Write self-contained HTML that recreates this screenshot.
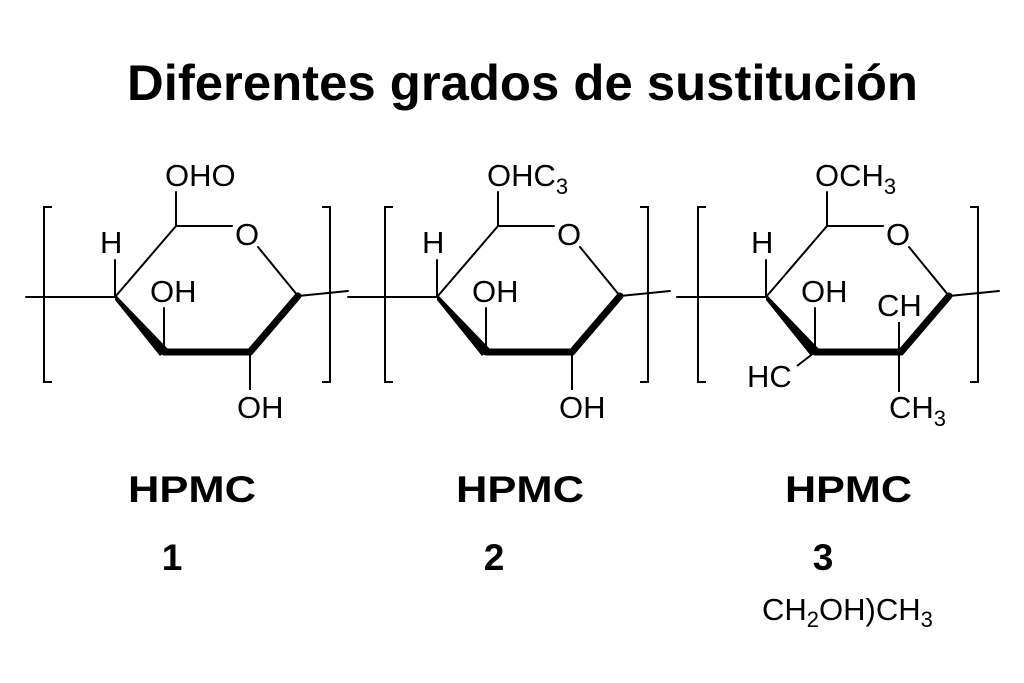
<!DOCTYPE html>
<html><head><meta charset="utf-8"><style>
html,body{margin:0;padding:0;background:#fff;}
svg{display:block;}
text{font-family:"Liberation Sans",sans-serif;fill:#000;}
.l{font-size:31px;}
.b{font-weight:bold;}
</style></head><body>
<svg width="1024" height="683" viewBox="0 0 1024 683" xmlns="http://www.w3.org/2000/svg">
<rect width="1024" height="683" fill="#fff"/>
<text x="127" y="100" class="b" font-size="50" textLength="791" lengthAdjust="spacingAndGlyphs">Diferentes grados de sustitución</text>

<defs>
<g id="ring" stroke="#000" fill="none" stroke-linecap="round">
  <line x1="115" y1="297" x2="176" y2="226" stroke-width="2"/>
  <line x1="176" y1="226" x2="232" y2="226" stroke-width="2"/>
  <line x1="258" y1="247" x2="298" y2="296" stroke-width="2"/>
  <polygon points="115,294 115,300 160,356 168,349" fill="#000" stroke="none"/>
  <line x1="164" y1="352" x2="250" y2="352" stroke-width="7"/>
  <line x1="250" y1="352" x2="298" y2="296" stroke-width="7"/>
  <line x1="298" y1="296" x2="348" y2="291" stroke-width="2"/>
  <line x1="26" y1="297" x2="115" y2="297" stroke-width="2"/>
  <line x1="115" y1="297" x2="115" y2="260" stroke-width="2"/>
  <line x1="164" y1="352" x2="164" y2="308" stroke-width="2"/>
  <line x1="176" y1="226" x2="176" y2="192" stroke-width="2"/>
</g>
</defs>

<!-- Structure 1 -->
<use href="#ring"/>
<path d="M52,207 H44 V382 H52 M322,207 H330 V382 H322" stroke="#000" stroke-width="2" fill="none"/>
<line x1="250" y1="352" x2="250" y2="390" stroke="#000" stroke-width="2"/>
<text x="165" y="186" class="l">OHO</text>
<text x="235" y="245" class="l">O</text>
<text x="100" y="253" class="l">H</text>
<text x="150" y="302" class="l">OH</text>
<text x="237" y="418" class="l">OH</text>

<!-- Structure 2 -->
<g transform="translate(322,0)">
<use href="#ring"/>
<line x1="250" y1="352" x2="250" y2="390" stroke="#000" stroke-width="2"/>
<text x="165" y="186" class="l">OHC<tspan font-size="22" dy="8">3</tspan></text>
<text x="235" y="245" class="l">O</text>
<text x="100" y="253" class="l">H</text>
<text x="150" y="302" class="l">OH</text>
<text x="237" y="418" class="l">OH</text>
</g>
<path d="M393,207 H385 V382 H393 M640,207 H648 V382 H640" stroke="#000" stroke-width="2" fill="none"/>

<!-- Structure 3 -->
<g transform="translate(651,0)">
<use href="#ring"/>
<text x="164" y="186" class="l">OCH<tspan font-size="22" dy="8">3</tspan></text>
<text x="235" y="245" class="l">O</text>
<text x="100" y="253" class="l">H</text>
<text x="150" y="302" class="l">OH</text>
<line x1="248" y1="352" x2="248" y2="322" stroke="#000" stroke-width="2"/>
<text x="226" y="316" class="l">CH</text>
<line x1="164" y1="352" x2="146" y2="366" stroke="#000" stroke-width="2"/>
<text x="96" y="387" class="l">HC</text>
<line x1="248" y1="352" x2="248" y2="392" stroke="#000" stroke-width="2"/>
<text x="238" y="418" class="l">CH<tspan font-size="22" dy="8">3</tspan></text>
</g>
<path d="M706,207 H698 V382 H706 M970,207 H978 V382 H970" stroke="#000" stroke-width="2" fill="none"/>

<text x="128" y="502" class="b" font-size="37" textLength="128" lengthAdjust="spacingAndGlyphs">HPMC</text>
<text x="456" y="502" class="b" font-size="37" textLength="128" lengthAdjust="spacingAndGlyphs">HPMC</text>
<text x="785" y="502" class="b" font-size="37" textLength="127" lengthAdjust="spacingAndGlyphs">HPMC</text>
<text x="172" y="570" class="b" font-size="37" text-anchor="middle">1</text>
<text x="494" y="570" class="b" font-size="37" text-anchor="middle">2</text>
<text x="823" y="570" class="b" font-size="37" text-anchor="middle">3</text>
<text x="762" y="620" font-size="31">CH<tspan font-size="22" dy="7">2</tspan><tspan dy="-7">OH)CH</tspan><tspan font-size="22" dy="7">3</tspan></text>
</svg>
</body></html>
